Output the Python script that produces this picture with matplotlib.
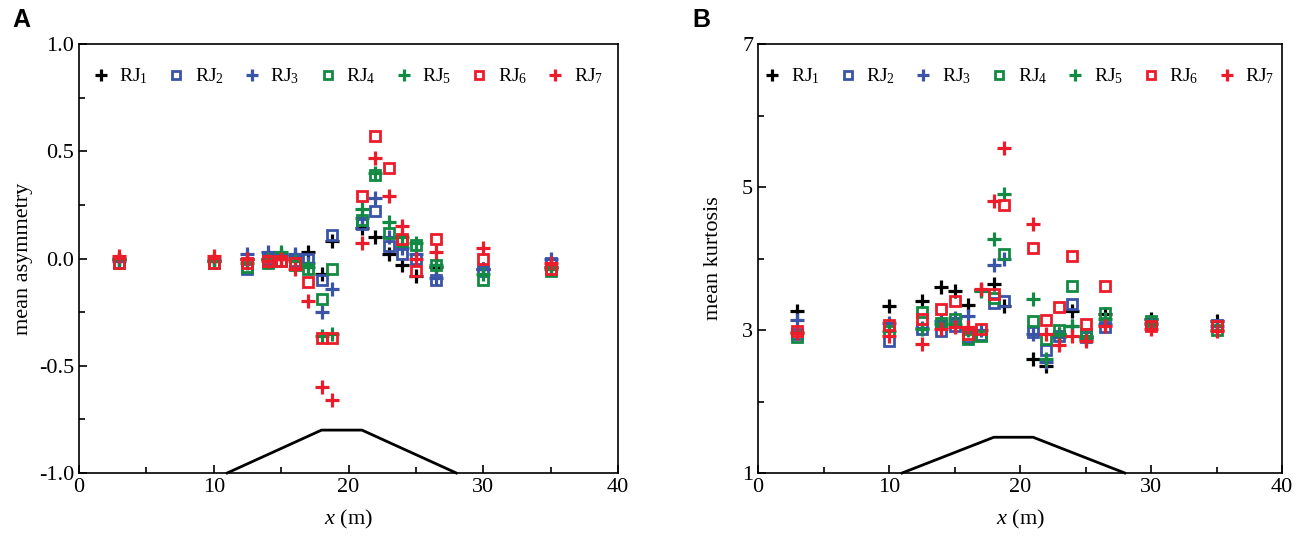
import matplotlib
matplotlib.use("Agg")
import matplotlib.pyplot as plt
from matplotlib.ticker import MultipleLocator, FixedLocator, FormatStrFormatter

plt.rcParams['font.family'] = ['Liberation Serif', 'DejaVu Serif']
plt.rcParams['mathtext.fontset'] = 'custom'
plt.rcParams['mathtext.rm'] = 'Liberation Serif'
plt.rcParams['mathtext.it'] = 'Liberation Serif:italic'
plt.rcParams['axes.unicode_minus'] = False

# ---- data ----
x_pos = [3, 10, 12.5, 14, 15, 16, 17, 18, 18.8, 21, 22, 23, 24, 25, 26.5, 30, 35]
labels = ['RJ$_1$', 'RJ$_2$', 'RJ$_3$', 'RJ$_4$', 'RJ$_5$', 'RJ$_6$', 'RJ$_7$']

asym_rj1 = [0.00, -0.01, 0.00, 0.00, 0.00, 0.01, 0.03, -0.07, 0.08, 0.14, 0.10, 0.02, -0.03, -0.08, -0.04, -0.05, -0.04]
asym_rj2 = [-0.02, -0.02, -0.05, 0.00, -0.01, -0.01, 0.00, -0.10, 0.11, 0.16, 0.22, 0.06, 0.02, 0.00, -0.10, -0.06, -0.02]
asym_rj3 = [-0.01, 0.00, 0.02, 0.03, 0.02, 0.02, -0.02, -0.25, -0.14, 0.19, 0.28, 0.10, 0.05, 0.02, -0.09, -0.05, 0.00]
asym_rj4 = [-0.02, -0.02, -0.04, -0.02, -0.01, -0.03, -0.05, -0.19, -0.05, 0.18, 0.39, 0.12, 0.08, 0.065, -0.03, -0.10, -0.06]
asym_rj5 = [0.00, -0.01, -0.02, 0.00, 0.03, -0.01, -0.04, -0.36, -0.35, 0.23, 0.40, 0.17, 0.10, 0.07, -0.03, -0.07, -0.05]
asym_rj6 = [-0.02, -0.02, -0.02, -0.01, -0.01, -0.02, -0.11, -0.37, -0.37, 0.29, 0.57, 0.42, 0.09, -0.06, 0.09, 0.00, -0.05]
asym_rj7 = [0.01, 0.01, 0.00, -0.01, 0.00, -0.05, -0.20, -0.60, -0.66, 0.07, 0.47, 0.29, 0.15, 0.00, 0.03, 0.05, -0.02]

kurt_rj1 = [3.26, 3.33, 3.40, 3.60, 3.54, 3.35, 3.56, 3.64, 3.33, 2.60, 2.50, 2.95, 3.26, 2.90, 3.22, 3.16, 3.12]
kurt_rj2 = [2.95, 2.85, 3.01, 2.99, 3.05, 2.90, 2.93, 3.38, 3.40, 2.97, 2.72, 2.92, 3.36, 2.90, 3.04, 3.08, 3.07]
kurt_rj3 = [3.14, 3.10, 3.03, 3.12, 3.17, 3.19, 3.00, 3.91, 4.00, 2.95, 2.55, 2.90, 3.05, 2.88, 3.08, 3.08, 3.05]
kurt_rj4 = [2.90, 2.98, 3.25, 3.10, 3.15, 2.87, 2.91, 3.45, 4.06, 3.12, 2.87, 3.00, 3.62, 2.95, 3.24, 3.12, 3.00]
kurt_rj5 = [2.97, 2.98, 3.01, 3.08, 3.08, 3.00, 3.55, 4.27, 4.90, 3.43, 2.60, 2.95, 3.05, 2.92, 3.15, 3.10, 3.00]
kurt_rj6 = [2.98, 3.07, 3.16, 3.30, 3.41, 2.94, 3.01, 3.51, 4.75, 4.14, 3.14, 3.32, 4.04, 3.09, 3.61, 3.06, 3.06]
kurt_rj7 = [2.96, 2.91, 2.81, 3.02, 3.04, 3.04, 3.58, 4.80, 5.55, 4.48, 2.95, 2.79, 2.91, 2.84, 3.06, 3.01, 2.98]

# bathymetry outline (trapezoid)
bed_x = [11, 18, 21, 28]
bed_asym = [-1.0, -0.8, -0.8, -1.0]
bed_kurt = [1.0, 1.5, 1.5, 1.0]

kurt_major = [1, 3, 5, 7]
kurt_minor = [2, 4, 6]

asym = [asym_rj1, asym_rj2, asym_rj3, asym_rj4, asym_rj5, asym_rj6, asym_rj7]
kurt = [kurt_rj1, kurt_rj2, kurt_rj3, kurt_rj4, kurt_rj5, kurt_rj6, kurt_rj7]

colors = ['#000000', '#3a55a8', '#3a55a8', '#138a43', '#138a43', '#ec1c2a', '#ec1c2a']
markers = ['+', 's', '+', 's', '+', 's', '+']

fig = plt.figure(figsize=(12.99, 5.51), dpi=100)
axA = fig.add_axes([79/1299, 78/551, 539/1299, 429/551])
axB = fig.add_axes([758/1299, 78/551, 524/1299, 429/551])


def draw(ax, data, bed_y):
    handles = []
    for vals, c, m, lab in zip(data, colors, markers, labels):
        if m == '+':
            h, = ax.plot(x_pos, vals, linestyle='none', marker='+', color=c,
                         markersize=10, markeredgewidth=2.3, label=lab)
        else:
            h, = ax.plot(x_pos, vals, linestyle='none', marker='s', color=c,
                         markerfacecolor='none', markersize=7.5, markeredgewidth=2.0, label=lab)
        handles.append(h)
    ax.plot(bed_x, bed_y, color='black', linewidth=2.0, clip_on=False)
    ax.set_xlim(0, 40)
    ax.xaxis.set_major_locator(MultipleLocator(10))
    ax.xaxis.set_minor_locator(MultipleLocator(5))
    ax.tick_params(axis='both', which='both', direction='in', top=False, right=False,
                   labelsize=16)
    ax.tick_params(which='major', length=6, width=1.2)
    ax.tick_params(which='minor', length=4, width=1.2)
    for s in ax.spines.values():
        s.set_linewidth(1.2)
    ax.set_xlabel('$x$ (m)', fontsize=16, labelpad=8)
    leg = ax.legend(handles=handles, loc='upper center', bbox_to_anchor=(0.5, 0.975),
                    ncol=7, frameon=False, fontsize=14, handlelength=0.7,
                    handletextpad=0.6, columnspacing=1.1, borderaxespad=0.2,
                    markerscale=0.85)
    return leg


draw(axA, asym, bed_asym)
axA.set_ylim(-1.0, 1.0)
axA.yaxis.set_major_locator(MultipleLocator(0.5))
axA.yaxis.set_minor_locator(MultipleLocator(0.25))
axA.yaxis.set_major_formatter(FormatStrFormatter('%.1f'))
axA.set_ylabel('mean asymmetry', fontsize=16, labelpad=4)

draw(axB, kurt, bed_kurt)
axB.set_ylim(1, 7)
axB.yaxis.set_major_locator(FixedLocator(kurt_major))
axB.yaxis.set_minor_locator(FixedLocator(kurt_minor))
axB.set_ylabel('mean kurtosis', fontsize=16, labelpad=14)

fig.text(12/1299, 1 - 20/551, 'A', fontsize=18, fontweight='bold',
         family='Liberation Sans', va='center', ha='left')
fig.text(692/1299, 1 - 20/551, 'B', fontsize=18, fontweight='bold',
         family='Liberation Sans', va='center', ha='left')

fig.savefig('out.png', dpi=100)
